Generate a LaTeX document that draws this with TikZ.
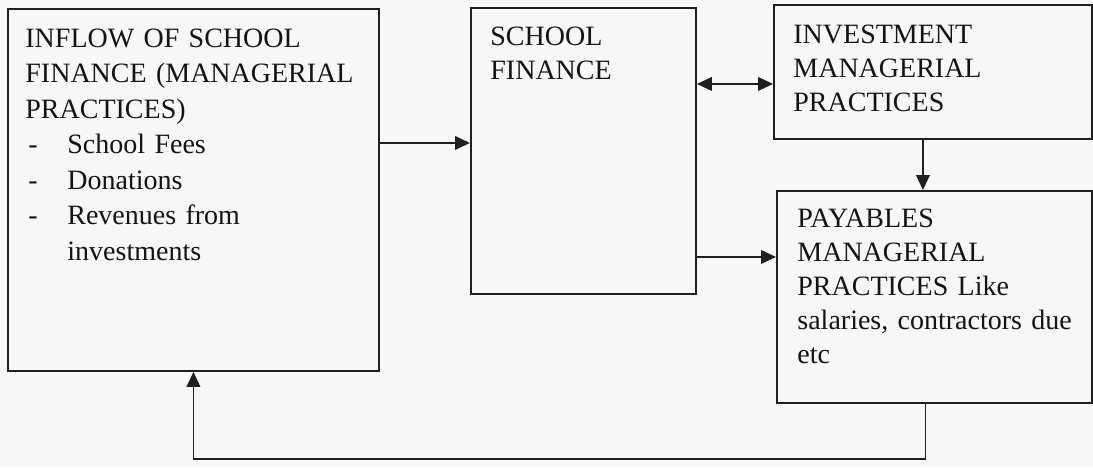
\documentclass[tikz,border=0pt]{standalone}
\usepackage{fontspec}
\setmainfont{Liberation Serif}
\usetikzlibrary{arrows.meta}
\tikzset{
  box/.style={draw=black!88, line width=0.95pt, anchor=north west, inner sep=0pt},
  txt/.style={anchor=base west, align=left, inner sep=0pt, text=black!92, font=\fontsize{14}{17}\selectfont},
  arr/.style={draw=black!88, line width=0.9pt}
}
\begin{document}
\begin{tikzpicture}[x=0.5pt, y=-0.5pt, >={Triangle[length=7.5pt,width=6.8pt]}]
  %%%%% PAGE %%%%%
  \fill[black!3] (0,0) rectangle (1093,467);
  \useasboundingbox (0,0) rectangle (1093,467);

  %%%%% BOXES %%%%%
  \node[box, minimum width=185.5pt, minimum height=181pt] (inflow) at (7,8) {};
  \node[box, minimum width=112.5pt, minimum height=143pt] (finance) at (470,7) {};
  \node[box, minimum width=159pt, minimum height=67pt] (invest) at (773,4) {};
  \node[box, minimum width=157.5pt, minimum height=106pt] (payable) at (776,190) {};

  %%%%% TEXT %%%%%
  \node[txt, text width=170pt, font=\fontsize{14}{17.75}\selectfont] (inflowtxt) at (25,47)
    {INFLOW OF SCHOOL\\ FINANCE (MANAGERIAL\\ PRACTICES)\\
     \makebox[21pt][l]{\hspace{1.5pt}-}School Fees\\
     \makebox[21pt][l]{\hspace{1.5pt}-}Donations\\
     \makebox[21pt][l]{\hspace{1.5pt}-}Revenues from\\
     \hspace*{21pt}investments};
  \node[txt, text width=90pt] (financetxt) at (490,45) {SCHOOL\\ FINANCE};
  \node[txt, text width=140pt] (investtxt) at (793,43) {INVESTMENT\\ MANAGERIAL\\ PRACTICES};
  \node[txt, text width=140pt] (payabletxt) at (797,227)
    {PAYABLES\\ MANAGERIAL\\ PRACTICES Like\\ salaries, contractors due\\ etc};

  %%%%% ARROWS %%%%%
  \coordinate (ab) at ([yshift=4pt]finance.west);
  \draw[arr, ->] (inflow.east |- ab) -- (ab);

  \coordinate (bc) at ([yshift=-6pt]invest.west);
  \draw[arr, <->] (finance.east |- bc) -- (bc);

  \coordinate (cd) at ([xshift=-5pt]invest.south);
  \draw[arr, ->] (cd) -- (cd |- payable.north);

  \coordinate (bd) at ([yshift=20pt]payable.west);
  \draw[arr, ->] (finance.east |- bd) -- (bd);

  \coordinate (da) at ([xshift=-4.5pt]payable.south);
  \draw[arr, ->] (da) -- ++(0,55) -| (inflow.south);
\end{tikzpicture}
\end{document}
